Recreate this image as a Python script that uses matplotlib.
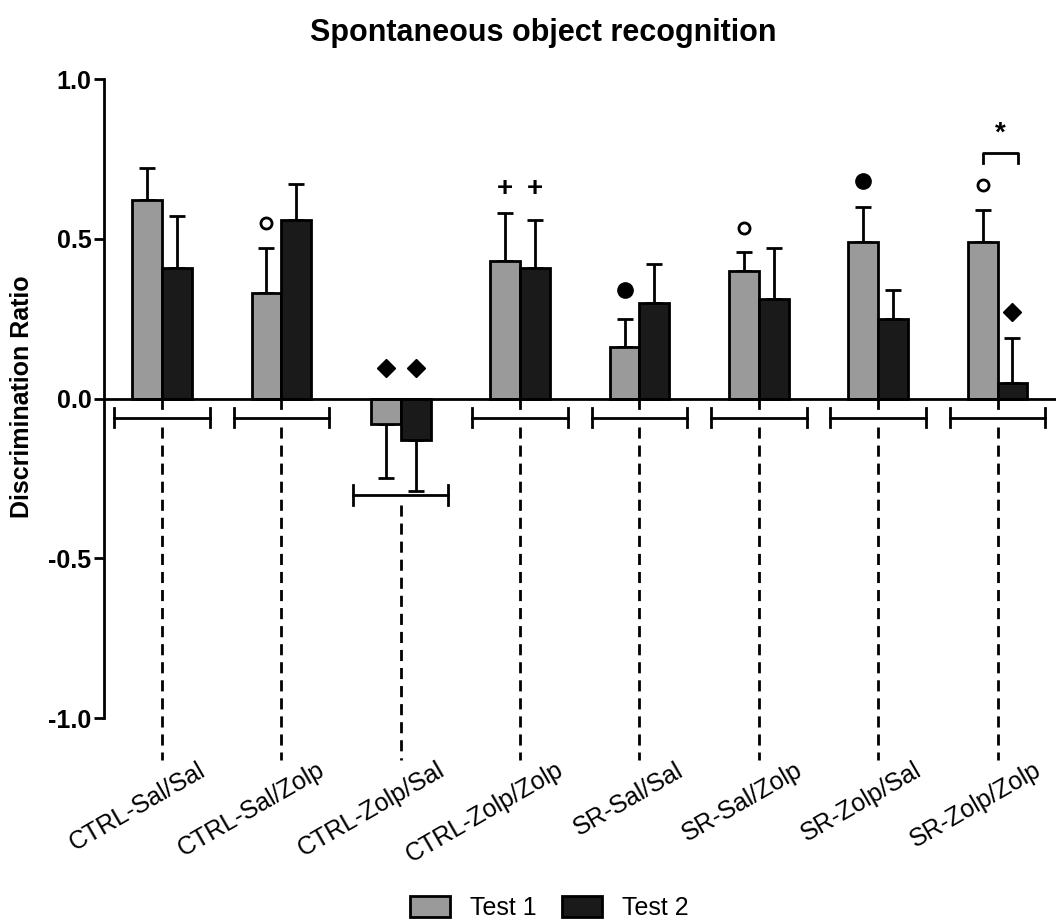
"""
Spontaneous object recognition: discrimination ratio per group, Test 1 vs Test 2.
"""
import numpy as np, matplotlib
matplotlib.use('Agg')
import matplotlib.pyplot as plt
from matplotlib.patches import Patch

plt.rcParams.update({
    'font.family': ['Liberation Sans', 'DejaVu Sans'],
    'font.size': 18,
    'axes.linewidth': 2,
})

groups = ['CTRL-Sal/Sal', 'CTRL-Sal/Zolp', 'CTRL-Zolp/Sal', 'CTRL-Zolp/Zolp',
          'SR-Sal/Sal', 'SR-Sal/Zolp', 'SR-Zolp/Sal', 'SR-Zolp/Zolp']
test1 = [0.62, 0.33, -0.08, 0.43, 0.16, 0.40, 0.49, 0.49]
test1_sem = [0.10, 0.14, 0.17, 0.15, 0.09, 0.06, 0.11, 0.10]
test2 = [0.41, 0.56, -0.13, 0.41, 0.30, 0.31, 0.25, 0.05]
test2_sem = [0.16, 0.11, 0.16, 0.15, 0.12, 0.16, 0.09, 0.14]

# significance symbols: (group index, test 1/2, symbol, y)
marks = [(1, 1, 'open', 0.55), (2, 1, 'diamond', 0.095), (2, 2, 'diamond', 0.095),
         (3, 1, 'plus', 0.655), (3, 2, 'plus', 0.655), (4, 1, 'filled', 0.34),
         (5, 1, 'open', 0.535), (6, 1, 'filled', 0.68), (7, 1, 'open', 0.667),
         (7, 2, 'diamond', 0.27)]
star_group, star_y = 7, 0.767

GRAY, BLACK = '#9a9a9a', '#1a1a1a'
W = 0.25

fig = plt.figure(figsize=(10.56, 9.21), dpi=100)
ax = fig.add_axes([104/1056, 1-718/921, 1-104/1056, (718-79)/921])

x = np.arange(len(groups))
t1 = np.array(test1); t2 = np.array(test2)
e1 = np.array(test1_sem); e2 = np.array(test2_sem)

ax.bar(x - W/2, t1, W, color=GRAY, edgecolor='black', lw=2, zorder=3)
ax.bar(x + W/2, t2, W, color=BLACK, edgecolor='black', lw=2, zorder=3)

# one-sided error bars (away from zero)
for xs, v, e in [(x - W/2, t1, e1), (x + W/2, t2, e2)]:
    up = np.where(v >= 0, e, 0)
    dn = np.where(v < 0, e, 0)
    ax.errorbar(xs, v, yerr=[dn, up], fmt='none', ecolor='black',
                elinewidth=2, capsize=6, capthick=2, zorder=2)

ax.axhline(0, color='black', lw=2, zorder=4)

# Prism-style group axis: bracket under each group + dashed leader to label
for i in x:
    low = min(t1[i] - (e1[i] if t1[i] < 0 else 0), t2[i] - (e2[i] if t2[i] < 0 else 0))
    by = min(-0.06, low - 0.012)
    if by == -0.06:
        ax.plot([i, i], [0, -0.03], color='black', lw=2, clip_on=False)
    ax.plot([i - 0.40, i + 0.40], [by, by], color='black', lw=2, clip_on=False)
    for xe in (i - 0.40, i + 0.40):
        ax.plot([xe, xe], [by + 0.03, by - 0.03], color='black', lw=2, clip_on=False)
    ax.plot([i, i], [by - 0.03, -1.13], color='black', lw=2, ls=(0, (4, 2.5)),
            clip_on=False)
    ax.text(i + 0.30, -1.125, groups[i], rotation=30, ha='right', va='top',
            rotation_mode='anchor', fontsize=18)

for g, t, sym, y in marks:
    xm = g - W/2 if t == 1 else g + W/2
    if sym == 'open':
        ax.plot(xm, y, 'o', ms=8, mfc='white', mec='black', mew=2, clip_on=False)
    elif sym == 'filled':
        ax.plot(xm, y, 'o', ms=11, color='black', clip_on=False)
    elif sym == 'diamond':
        ax.plot(xm, y, 'D', ms=9, color='black', clip_on=False)
    elif sym == 'plus':
        ax.text(xm, y, '+', ha='center', va='center', fontsize=20, fontweight='bold')

# Test 1 vs Test 2 bracket with star
sx0, sx1 = star_group - W/2, star_group + W/2 + 0.05
ax.plot([sx0, sx0, sx1, sx1], [star_y - 0.03, star_y, star_y, star_y - 0.03],
        color='black', lw=2)
ax.text((sx0 + sx1) / 2, star_y + 0.02, '*', ha='center', va='bottom', fontsize=20,
        fontweight='bold')

ax.set_xlim(-0.486, 7.49)
ax.set_ylim(-1.0, 1.0)
for s in ('top', 'right', 'bottom'):
    ax.spines[s].set_visible(False)
ax.spines['left'].set_bounds(-1, 1)
ax.set_xticks([])
ax.set_yticks([-1.0, -0.5, 0.0, 0.5, 1.0])
ax.set_yticklabels(['-1.0', '-0.5', '0.0', '0.5', '1.0'], fontweight='bold')
ax.tick_params(axis='y', direction='out', length=7, width=2, labelsize=18, pad=2)

fig.text(22/1056, 1-397/921, 'Discrimination Ratio', rotation=90, ha='center',
         va='center', fontsize=18, fontweight='bold')
fig.text(543/1056, 1-33/921, 'Spontaneous object recognition', ha='center',
         va='center', fontsize=22, fontweight='bold')

handles = [Patch(facecolor=GRAY, edgecolor='black', lw=2, label='Test 1'),
           Patch(facecolor=BLACK, edgecolor='black', lw=2, label='Test 2')]
fig.legend(handles=handles, loc='center', bbox_to_anchor=(549/1056, 1-908/921),
           ncol=2, frameon=False, fontsize=18, handlelength=1.6, handleheight=0.9,
           columnspacing=1.0, handletextpad=0.8)

fig.savefig('out.png', dpi=100, facecolor='white')
plt.close(fig)
